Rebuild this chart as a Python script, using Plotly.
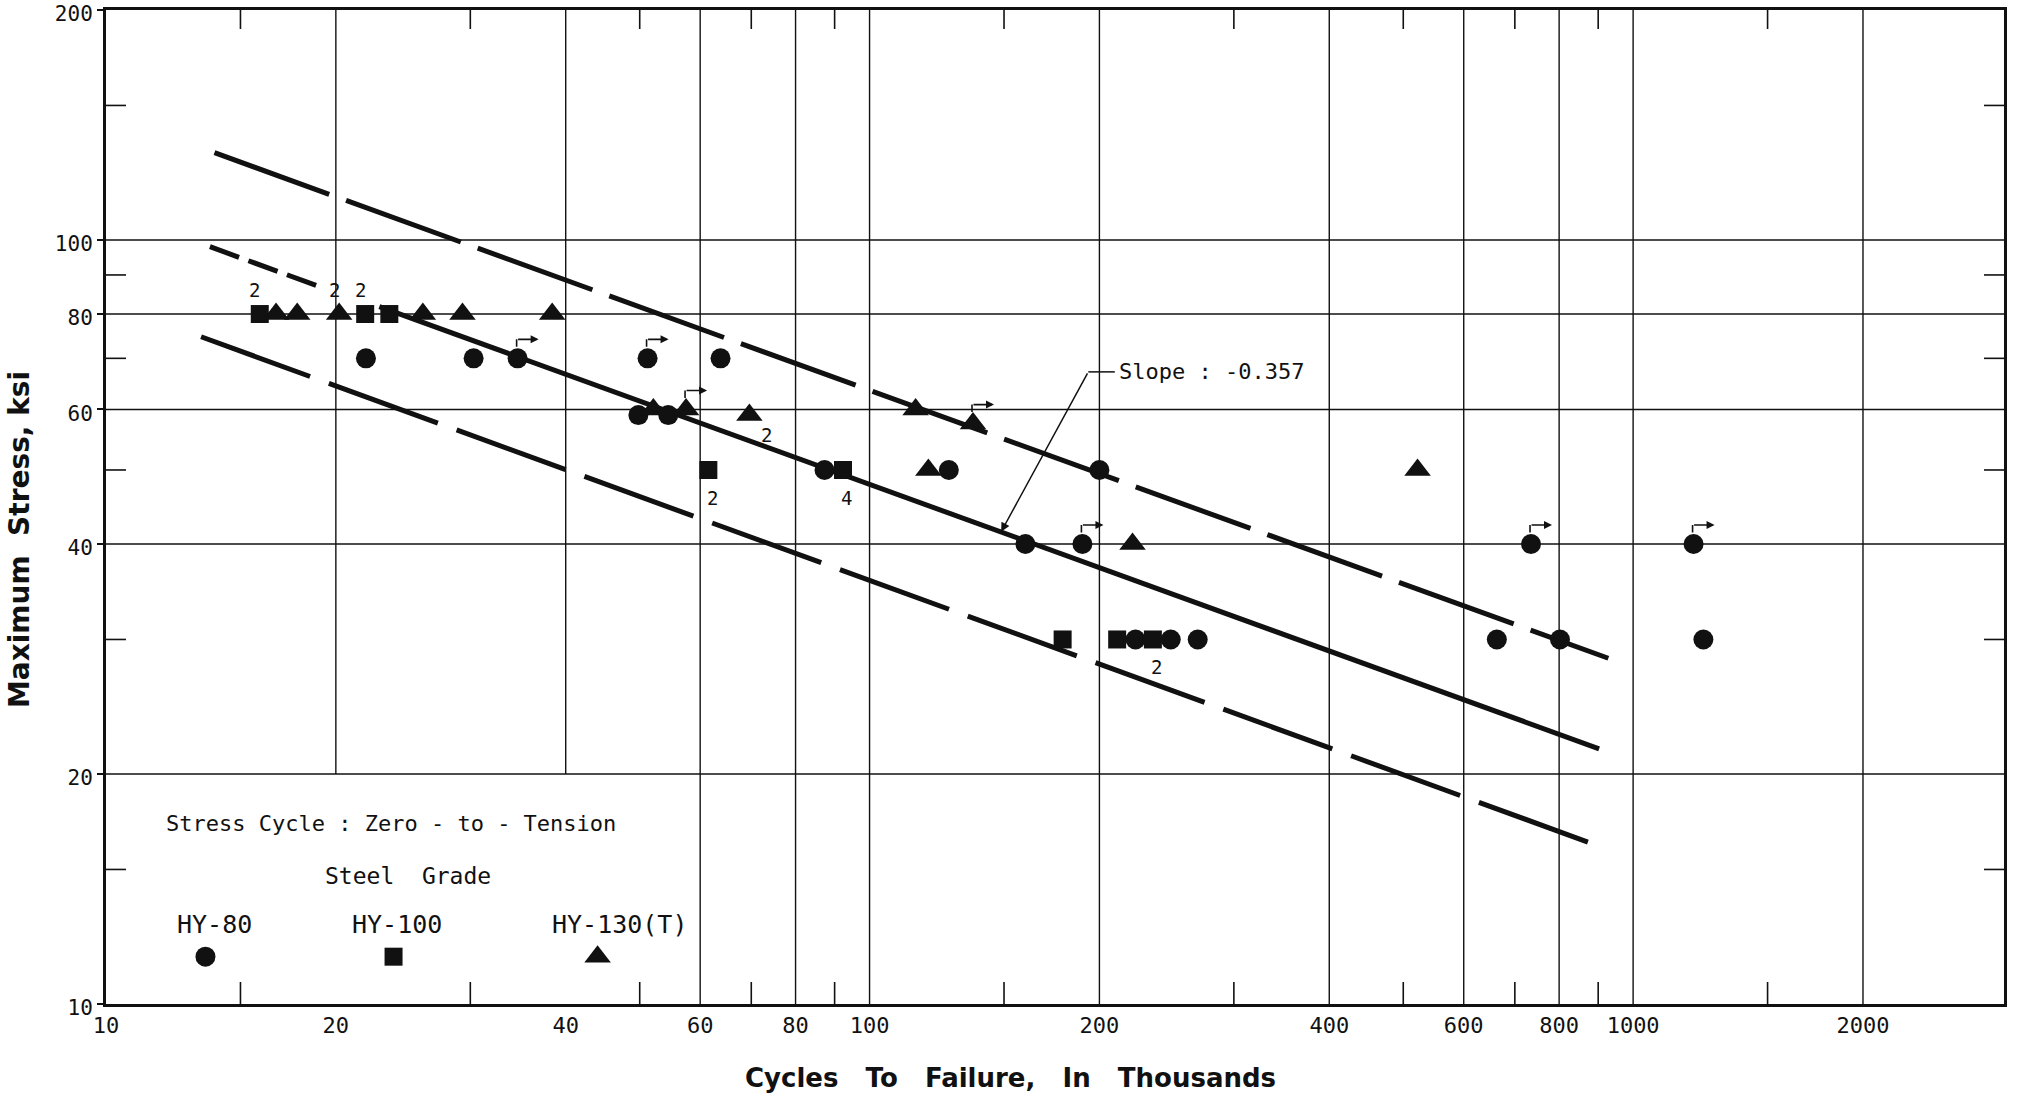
import numpy as np
import plotly.graph_objects as go

# ---------------- data ----------------
# HY-80 (circles)
hy80_cycles = [21.9, 30.3, 34.6, 51.2, 63.8, 49.8, 54.5, 87.3, 127, 200, 160, 190,
               223, 248, 269, 663, 735, 802, 1200, 1236]
hy80_stress = [70, 70, 70, 70, 70, 59, 59, 50, 50, 50, 40, 40,
               30, 30, 30, 30, 40, 30, 40, 30]
hy80_runout = [0, 0, 1, 1, 0, 0, 0, 0, 0, 0, 0, 1,
               0, 0, 0, 0, 1, 0, 1, 0]
hy80_count = [''] * 20

# HY-100 (squares)
hy100_cycles = [15.9, 21.85, 23.5, 61.5, 92.3, 179, 211, 235]
hy100_stress = [80, 80, 80, 50, 50, 30, 30, 30]
hy100_runout = [0, 0, 0, 0, 0, 0, 0, 0]
hy100_count = ['2', '2', '', '2', '4', '', '', '2']

# HY-130(T) (triangles)
hy130_cycles = [16.7, 17.8, 20.2, 26.0, 29.3, 38.4, 52.1, 57.5, 69.6, 114.9,
                136.6, 119.4, 221, 522]
hy130_stress = [80, 80, 80, 80, 80, 80, 60, 60, 59, 60, 57.5, 50, 40, 50]
hy130_runout = [0, 0, 0, 0, 0, 0, 0, 1, 0, 0, 1, 0, 0, 0]
hy130_count = ['', '', '2', '', '', '', '', '', '2', '', '', '', '', '']

# scatter band lines
upper_cycles = [13.87, 928]
upper_stress = [130.1, 28.35]
mean_cycles = [22.8, 902.5]
mean_stress = [81.8, 21.58]
mean_ext_cycles = [13.68, 19.15]
mean_ext_stress = [98.0, 86.7]
lower_cycles = [13.32, 917]
lower_stress = [74.7, 16.0]

# axes
x_range = [10, 3060]
y_range = [10, 200]
x_label_ticks = [10, 20, 40, 60, 80, 100, 200, 400, 600, 800, 1000, 2000]
y_label_ticks = [10, 20, 40, 60, 80, 100, 200]
x_minor = [15, 30, 50, 70, 90, 150, 300, 500, 700, 900, 1500]
y_minor = [15, 30, 50, 70, 90, 150]
x_grid = [20, 40, 60, 80, 100, 200, 400, 600, 800, 1000, 2000]
y_grid = [20, 40, 60, 80, 100]

slope_text = "Slope : -0.357"
series_names = ["HY-80", "HY-100", "HY-130(T)"]
x_title = "Cycles\u00a0\u00a0 To\u00a0\u00a0 Failure,\u00a0\u00a0 In\u00a0\u00a0 Thousands"
y_title = "Maximum\u00a0 Stress, ksi"

# ---------------- style ----------------
INK = "#111111"
MONO = "DejaVu Sans Mono, Liberation Mono, monospace"
BOLD = "DejaVu Sans, Liberation Sans, sans-serif"
LW = 5

fig = go.Figure()

# band lines
fig.add_trace(go.Scatter(x=upper_cycles, y=upper_stress, mode="lines",
                         line=dict(color=INK, width=LW, dash="122px,18px"),
                         hoverinfo="skip"))
fig.add_trace(go.Scatter(x=lower_cycles, y=lower_stress, mode="lines",
                         line=dict(color=INK, width=LW, dash="116px,20px"),
                         hoverinfo="skip"))
fig.add_trace(go.Scatter(x=mean_cycles, y=mean_stress, mode="lines",
                         line=dict(color=INK, width=LW), hoverinfo="skip"))
fig.add_trace(go.Scatter(x=mean_ext_cycles, y=mean_ext_stress, mode="lines",
                         line=dict(color=INK, width=LW, dash="31px,10px"),
                         hoverinfo="skip"))

series = [
    (hy80_cycles, hy80_stress, hy80_runout, hy80_count, "circle", 20),
    (hy100_cycles, hy100_stress, hy100_runout, hy100_count, "square", 18),
    (hy130_cycles, hy130_stress, hy130_runout, hy130_count, "triangle-up", 23),
]

annotations = []
for si, (cx, cy, ro, cnt, sym, size) in enumerate(series):
    fig.add_trace(go.Scatter(x=cx, y=cy, mode="markers", name=series_names[si],
                             marker=dict(symbol=sym, size=size, color=INK,
                                         line=dict(width=0))))
    for xv, yv, r, c in zip(cx, cy, ro, cnt):
        lx, ly = np.log10(xv), np.log10(yv)
        if r:
            annotations.append(dict(x=lx, y=ly, xref="x", yref="y", text="",
                                    showarrow=True, arrowhead=0, arrowwidth=1.6,
                                    arrowcolor=INK, ax=0, ay=9, xshift=-1, yshift=19))
            annotations.append(dict(x=lx, y=ly, xref="x", yref="y", text="",
                                    showarrow=True, arrowhead=2, arrowsize=1,
                                    arrowwidth=1.6, arrowcolor=INK, ax=-22, ay=0,
                                    xshift=21, yshift=19))
        if c:
            if yv >= 80:
                xs, ys = -5, 24
            elif si == 2:
                xs, ys = 17, -20
            else:
                xs, ys = 4, -28
            annotations.append(dict(x=lx, y=ly, xref="x", yref="y", text=c,
                                    showarrow=False, xshift=xs, yshift=ys,
                                    font=dict(family=MONO, size=19, color=INK)))

# legend keys on an overlay unit axis
fig.add_trace(go.Scatter(x=[0.0524], y=[0.0476], xaxis="x2", yaxis="y2", mode="markers",
                         marker=dict(symbol="circle", size=20, color=INK), hoverinfo="skip"))
fig.add_trace(go.Scatter(x=[0.1515], y=[0.0476], xaxis="x2", yaxis="y2", mode="markers",
                         marker=dict(symbol="square", size=18, color=INK), hoverinfo="skip"))
fig.add_trace(go.Scatter(x=[0.259], y=[0.0476], xaxis="x2", yaxis="y2", mode="markers",
                         marker=dict(symbol="triangle-up", size=23, color=INK), hoverinfo="skip"))

# grid lines as shapes (vertical lines stop above the legend panel)
shapes = []
for gx in x_grid:
    y0 = 20 if gx < 60 else y_range[0]
    shapes.append(dict(type="line", xref="x", yref="y", x0=gx, x1=gx, y0=y0, y1=y_range[1],
                       line=dict(color=INK, width=1.4), layer="below"))
for gy in y_grid:
    shapes.append(dict(type="line", xref="x", yref="y", x0=x_range[0], x1=x_range[1], y0=gy, y1=gy,
                       line=dict(color=INK, width=1.4), layer="below"))
# minor ticks, inside on all four sides
for mx in x_minor:
    shapes.append(dict(type="line", xref="x", yref="paper", ysizemode="pixel", yanchor=0,
                       x0=mx, x1=mx, y0=0, y1=22, line=dict(color=INK, width=1.6)))
    shapes.append(dict(type="line", xref="x", yref="paper", ysizemode="pixel", yanchor=1,
                       x0=mx, x1=mx, y0=0, y1=-19, line=dict(color=INK, width=1.6)))
for my in y_minor:
    shapes.append(dict(type="line", yref="y", xref="paper", xsizemode="pixel", xanchor=0,
                       y0=my, y1=my, x0=0, x1=20, line=dict(color=INK, width=1.6)))
    shapes.append(dict(type="line", yref="y", xref="paper", xsizemode="pixel", xanchor=1,
                       y0=my, y1=my, x0=0, x1=-20, line=dict(color=INK, width=1.6)))
# slope leader stub
shapes.append(dict(type="line", xref="x", yref="y", x0=193.4, x1=209.5, y0=67.2, y1=67.2,
                   line=dict(color=INK, width=1.5)))

# slope callout
annotations.append(dict(x=np.log10(148.7), y=np.log10(41.5), xref="x", yref="y",
                        ax=np.log10(193.4), ay=np.log10(67.2), axref="x", ayref="y",
                        text="", showarrow=True, arrowhead=2, arrowsize=1.2,
                        arrowwidth=1.5, arrowcolor=INK))
annotations.append(dict(x=np.log10(211), y=np.log10(67.2), xref="x", yref="y",
                        text=slope_text, showarrow=False, xanchor="left", yanchor="middle",
                        font=dict(family=MONO, size=22, color=INK)))

# legend panel texts
annotations += [
    dict(x=0.0308, y=0.1811, xref="paper", yref="paper", xanchor="left", yanchor="middle",
         text="Stress Cycle : Zero - to - Tension", showarrow=False,
         font=dict(family=MONO, size=22, color=INK)),
    dict(x=0.1591, y=0.1288, xref="paper", yref="paper", xanchor="center", yanchor="middle",
         text="Steel  Grade", showarrow=False, font=dict(family=MONO, size=23, color=INK)),
    dict(x=0.0574, y=0.0795, xref="paper", yref="paper", xanchor="center", yanchor="middle",
         text=series_names[0], showarrow=False, font=dict(family=MONO, size=25, color=INK)),
    dict(x=0.1532, y=0.0795, xref="paper", yref="paper", xanchor="center", yanchor="middle",
         text=series_names[1], showarrow=False, font=dict(family=MONO, size=25, color=INK)),
    dict(x=0.2708, y=0.0795, xref="paper", yref="paper", xanchor="center", yanchor="middle",
         text=series_names[2], showarrow=False, font=dict(family=MONO, size=25, color=INK)),
]

# axis titles
annotations += [
    dict(x=0.4768, y=-0.0744, xref="paper", yref="paper", xanchor="center", yanchor="middle",
         text=x_title, showarrow=False,
         font=dict(family=BOLD, size=26, color=INK, weight="bold")),
    dict(x=-0.0458, y=0.4668, xref="paper", yref="paper", xanchor="center", yanchor="middle",
         text=y_title, showarrow=False, textangle=-90,
         font=dict(family=BOLD, size=28, color=INK, weight="bold")),
]

fig.update_layout(
    width=2017, height=1104,
    margin=dict(l=106, r=13, t=10, b=100, autoexpand=False),
    paper_bgcolor="white", plot_bgcolor="white",
    showlegend=False,
    shapes=shapes, annotations=annotations,
    xaxis=dict(type="log", range=[np.log10(x_range[0]), np.log10(x_range[1])],
               tickvals=x_label_ticks, ticktext=[str(v) for v in x_label_ticks],
               showgrid=False, zeroline=False, ticks="", automargin=False,
               ticklabeloverflow="allow",
               showline=True, linecolor=INK, linewidth=3, mirror=True,
               tickfont=dict(family=MONO, size=22, color=INK)),
    yaxis=dict(type="log", range=[np.log10(y_range[0]), np.log10(y_range[1])],
               tickvals=y_label_ticks, ticktext=[str(v) for v in y_label_ticks],
               showgrid=False, zeroline=False, ticks="outside", ticklen=6, tickwidth=1.5,
               tickcolor=INK, automargin=False, ticklabeloverflow="allow",
               ticklabelshift=4,
               showline=True, linecolor=INK, linewidth=3, mirror=True,
               tickfont=dict(family=MONO, size=21, color=INK)),
    xaxis2=dict(overlaying="x", range=[0, 1], visible=False),
    yaxis2=dict(overlaying="y", range=[0, 1], visible=False),
)

# remove the page's default body margin so the figure fills the window exactly
fig.write_html("out.html",
               config={"displayModeBar": False},
               post_script="document.body.style.margin='0px';document.body.style.overflow='hidden';")
